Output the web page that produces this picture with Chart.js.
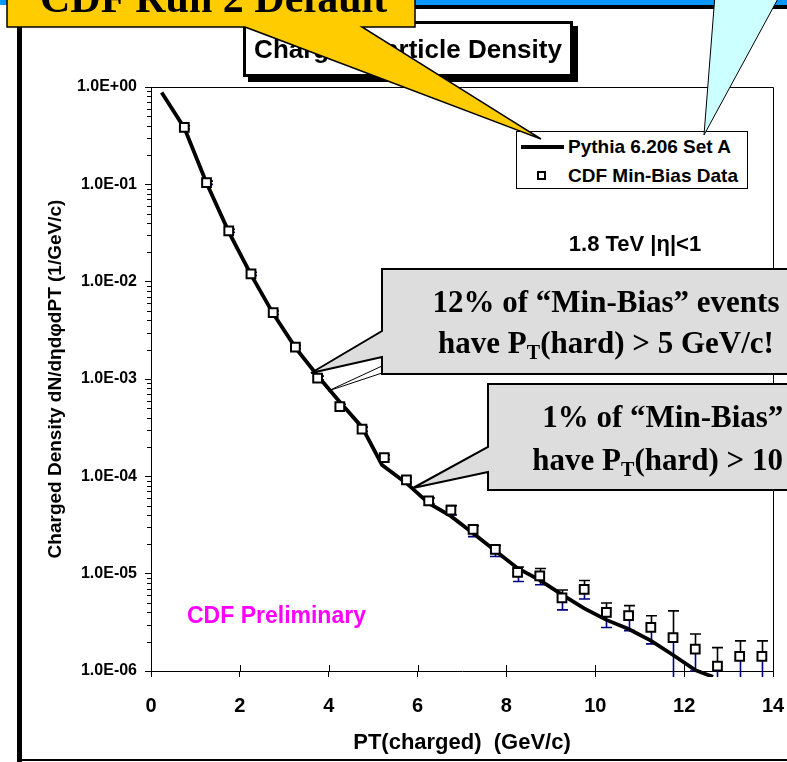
<!DOCTYPE html>
<html>
<head>
<meta charset="utf-8">
<title>Charged Particle Density</title>
<script src="https://cdn.jsdelivr.net/npm/chart.js@4.4.1/dist/chart.umd.min.js"></script>
<style>
  html, body { margin: 0; padding: 0; }
  body {
    width: 787px; height: 762px; overflow: hidden; position: relative; background: #fff;
    font-family: "Liberation Sans", Arial, sans-serif;
  }
  #chart { position: absolute; left: 0; top: 0; }
  .abs { position: absolute; white-space: nowrap; }

  /* slide frame */
  #topBand { left: 0; top: 0; width: 787px; height: 5px; background: #0a96ff; }
  #topRule { left: 17px; top: 5px; width: 770px; height: 4px; background: #000; }
  #frameLeft { left: 17px; top: 27px; width: 5px; height: 735px; background: #000; }
  #frameBottom { left: 17px; top: 759px; width: 770px; height: 2px; background: #000; }

  #titleBox {
    left: 243px; top: 21px; width: 324px; height: 50px;
    border: 3px solid #000; background: #fff; box-shadow: 5px 5px 0 #000;
    font-weight: bold; font-size: 26px; line-height: 50px; text-align: center; z-index: 2;
  }

  #legend {
    left: 516px; top: 131px; width: 230px; height: 56px;
    border: 1px solid #000; background: #fff; z-index: 2;
    font-weight: bold; font-size: 19px;
  }
  #legend .txt { position: absolute; left: 51px; line-height: 30px; }
  #legLine { position: absolute; left: 4px; top: 13px; width: 43px; height: 4px; background: #000; }
  #legBox { position: absolute; left: 20px; top: 39px; width: 5px; height: 5px; border: 2px solid #000; background: #fff; }

  #energy { left: 535px; top: 230px; width: 200px; text-align: center; font-weight: bold; font-size: 22px; line-height: 28px; z-index: 2; }
  #prelim { left: 187px; top: 601px; color: #ff00ff; font-weight: bold; font-size: 23px; line-height: 28px; z-index: 2; }

  #callouts { position: absolute; left: 0; top: 0; z-index: 3; }
  .serif { font-family: "Liberation Serif", "Times New Roman", serif; font-weight: bold; z-index: 4; }
  .serif sub { font-size: 20px; vertical-align: -6px; line-height: 0; }
  .c1 { left: 406px; width: 400px; text-align: center; font-size: 31px; line-height: 40px; }
  .c2 { left: 508px; width: 400px; text-align: center; font-size: 31px; line-height: 40px; }
  #runTwo { left: 40px; top: -25px; font-size: 42px; line-height: 46px; }
</style>
</head>
<body>
<div id="topBand" class="abs"></div>
<div id="topRule" class="abs"></div>
<div id="frameLeft" class="abs"></div>
<div id="frameBottom" class="abs"></div>

<canvas id="chart" width="787" height="762"></canvas>

<div id="titleBox" class="abs">Charged Particle Density</div>

<div id="legend" class="abs">
  <span id="legLine"></span><span class="txt" id="legText0" style="top:0"></span>
  <span id="legBox"></span><span class="txt" id="legText1" style="top:29px"></span>
</div>

<div id="energy" class="abs">1.8 TeV |η|&lt;1</div>
<div id="prelim" class="abs">CDF Preliminary</div>

<svg id="callouts" width="787" height="762">
  <!-- grey call-outs pointing at the curve -->
  <path d="M382,269 H810 V374 H382 V357 L311,373 L382,331 Z" fill="#dddddd" stroke="#000" stroke-width="2" stroke-linejoin="miter"/>
  <path d="M382,366 L328,391 L382,373" fill="none" stroke="#000" stroke-width="1"/>
  <path d="M488,384 H810 V490 H488 V472 L413,488 L488,447 Z" fill="#dddddd" stroke="#000" stroke-width="2" stroke-linejoin="miter"/>
  <!-- yellow label box and its pointer -->
  <path d="M7,-10 H415 V27 H362 L541,139 L245,27 H7 Z" fill="#ffcc00" stroke="#000" stroke-width="1.5" stroke-linejoin="miter"/>
  <!-- cyan pointer from the top -->
  <path d="M715,-5 L780,-5 L704,135 Z" fill="#ccffff" stroke="#000" stroke-width="1"/>
</svg>

<div id="runTwo" class="abs serif">CDF Run 2 Default</div>

<div class="abs serif c1" style="top:282px">12% of “Min-Bias” events</div>
<div class="abs serif c1" style="top:323px">have P<sub>T</sub>(hard) &gt; 5 GeV/c!</div>
<div class="abs serif c2" style="top:397px">1% of “Min-Bias” events</div>
<div class="abs serif c2" style="top:440px">have P<sub>T</sub>(hard) &gt; 10 GeV/c!</div>

<script>
// Charged particle density vs PT, |eta| < 1 at 1.8 TeV

// CDF min-bias data: bin centres (GeV/c), values and error-bar ends
const ptBins = [0.75, 1.25, 1.75, 2.25, 2.75, 3.25, 3.75, 4.25, 4.75, 5.25, 5.75, 6.25, 6.75,
                7.25, 7.75, 8.25, 8.75, 9.25, 9.75, 10.25, 10.75, 11.25, 11.75, 12.25, 12.75, 13.25, 13.75];
const cdfData = [0.385, 0.104, 0.0333, 0.0120, 0.0048, 0.00213, 0.00102, 0.00052, 0.000305, 0.000156,
                 9.2e-5, 5.6e-5, 4.5e-5, 2.85e-5, 1.78e-5, 1.03e-5, 9.5e-6, 5.65e-6, 6.9e-6, 4.0e-6,
                 3.7e-6, 2.8e-6, 2.2e-6, 1.68e-6, 1.12e-6, 1.41e-6, 1.41e-6];
const cdfHigh = [0.40, 0.108, 0.0346, 0.0125, 0.0050, 0.00222, 0.00107, 0.00055, 0.00032, 0.000165,
                 9.7e-5, 6.0e-5, 5.0e-5, 3.1e-5, 1.95e-5, 1.17e-5, 1.13e-5, 6.8e-6, 8.5e-6, 5.0e-6,
                 4.7e-6, 3.7e-6, 4.15e-6, 2.4e-6, 1.74e-6, 2.04e-6, 2.04e-6];
const cdfLow = [0.37, 0.100, 0.0322, 0.0116, 0.0046, 0.00205, 0.00098, 0.00050, 0.00029, 0.000149,
                8.6e-5, 5.2e-5, 4.0e-5, 2.4e-5, 1.5e-5, 8.3e-6, 7.7e-6, 4.25e-6, 5.5e-6, 2.8e-6,
                2.6e-6, 1.9e-6, 5e-7, 1.0e-6, 5e-7, 5e-7, 5e-7];

// Pythia 6.206 Set A prediction
const pythiaPT = [0.24, 0.75, 1.25, 1.75, 2.25, 2.75, 3.25, 3.75, 4.25, 4.75, 5.2, 5.75, 6.25, 6.75,
                  7.25, 7.75, 8.25, 8.75, 9.25, 9.75, 10.25, 10.75, 11.25, 11.75, 12.25, 12.65];
const pythiaDensity = [0.88, 0.38, 0.103, 0.0325, 0.0118, 0.0047, 0.0021, 0.00108, 0.00058, 0.00032,
                       0.000131, 8.5e-5, 5.3e-5, 3.9e-5, 2.6e-5, 1.72e-5, 1.14e-5, 8.6e-6, 6.1e-6, 4.4e-6,
                       3.35e-6, 2.7e-6, 2.05e-6, 1.46e-6, 1.02e-6, 8.7e-7];

// axis ticks
const yTickValues = [1e-6, 1e-5, 1e-4, 1e-3, 1e-2, 1e-1, 1];
const yTickLabels = ['1.0E-06', '1.0E-05', '1.0E-04', '1.0E-03', '1.0E-02', '1.0E-01', '1.0E+00'];
const xTickValues = [0, 2, 4, 6, 8, 10, 12, 14];

const PLOT = { left: 151, right: 773, top: 87, bottom: 671 };

// vertical error bars: black above the point, navy below
const errorBars = {
  id: 'errorBars',
  beforeDatasetsDraw(chart) {
    const { ctx, chartArea: a, scales: { x, y } } = chart;
    ctx.save();
    ctx.beginPath();
    ctx.rect(a.left, a.top, a.right - a.left, a.bottom - a.top + 6);
    ctx.clip();
    ctx.lineWidth = 1.6;
    ptBins.forEach((pt, i) => {
      const px = Math.round(x.getPixelForValue(pt)) + 0.5;
      const py = y.getPixelForValue(cdfData[i]);
      const hi = y.getPixelForValue(cdfHigh[i]);
      const lo = y.getPixelForValue(cdfLow[i]);
      ctx.strokeStyle = '#000';
      ctx.beginPath();
      ctx.moveTo(px, py); ctx.lineTo(px, hi);
      ctx.moveTo(px - 5.5, hi); ctx.lineTo(px + 5.5, hi);
      ctx.stroke();
      ctx.strokeStyle = '#000080';
      ctx.beginPath();
      ctx.moveTo(px, py); ctx.lineTo(px, lo);
      ctx.moveTo(px - 5.5, lo); ctx.lineTo(px + 5.5, lo);
      ctx.stroke();
    });
    ctx.restore();
  }
};

// plot frame, minor log ticks and the inner half of the x ticks
const axisExtras = {
  id: 'axisExtras',
  afterDraw(chart) {
    const { ctx, chartArea: a, scales: { x, y } } = chart;
    ctx.save();
    ctx.strokeStyle = '#000';
    ctx.lineWidth = 1;
    ctx.beginPath();
    ctx.moveTo(a.left, a.top + 0.5);
    ctx.lineTo(a.right + 0.5, a.top + 0.5);
    ctx.lineTo(a.right + 0.5, a.bottom);
    for (let k = -6; k < 0; k++) {
      for (let m = 2; m <= 9; m++) {
        const py = Math.round(y.getPixelForValue(m * Math.pow(10, k))) + 0.5;
        ctx.moveTo(a.left - 4, py);
        ctx.lineTo(a.left, py);
      }
    }
    xTickValues.forEach(v => {
      const px = Math.round(x.getPixelForValue(v)) + 0.5;
      ctx.moveTo(px, a.bottom);
      ctx.lineTo(px, a.bottom - 6);
    });
    ctx.stroke();
    ctx.restore();
  }
};

const chart = new Chart(document.getElementById('chart'), {
  type: 'scatter',
  data: {
    datasets: [
      {
        label: 'CDF Min-Bias Data',
        data: ptBins.map((pt, i) => ({ x: pt, y: cdfData[i] })),
        showLine: false,
        pointStyle: 'rect',
        pointRadius: 6.2,
        pointBorderWidth: 2,
        pointBorderColor: '#000',
        pointBackgroundColor: '#fff',
        order: 0
      },
      {
        label: 'Pythia 6.206 Set A',
        data: pythiaPT.map((pt, i) => ({ x: pt, y: pythiaDensity[i] })),
        showLine: true,
        borderColor: '#000',
        borderWidth: 3.8,
        pointRadius: 0,
        tension: 0,
        clip: { left: 5, top: 5, right: 5, bottom: 6 },
        order: 1
      }
    ]
  },
  options: {
    responsive: false,
    animation: false,
    layout: { padding: { left: 0, right: 787 - PLOT.right, top: PLOT.top, bottom: 0 } },
    plugins: { legend: { display: false }, tooltip: { enabled: false } },
    scales: {
      x: {
        type: 'linear',
        min: 0,
        max: 14,
        // fixed axis band; tick labels may hang past the plot edges
        afterFit: s => { s.height = 762 - PLOT.bottom; s.paddingLeft = 0; s.paddingRight = 0; },
        afterBuildTicks: s => { s.ticks = xTickValues.map(v => ({ value: v })); },
        ticks: {
          autoSkip: false,
          maxRotation: 0,
          padding: 17,
          color: '#000',
          font: { family: 'Liberation Sans', size: 20, weight: 'bold' }
        },
        grid: { drawOnChartArea: false, drawTicks: true, tickLength: 6, color: '#000' },
        border: { display: true, color: '#000', width: 1 },
        title: {
          display: true,
          text: 'PT(charged)  (GeV/c)',
          color: '#000',
          font: { family: 'Liberation Sans', size: 22, weight: 'bold' },
          padding: { top: 0, bottom: 6 }
        }
      },
      y: {
        type: 'logarithmic',
        min: 1e-6,
        max: 1,
        afterFit: s => { s.width = PLOT.left; s.paddingTop = 0; s.paddingBottom = 0; },
        afterBuildTicks: s => { s.ticks = yTickValues.map(v => ({ value: v })); },
        ticks: {
          autoSkip: false,
          padding: 8,
          color: '#000',
          font: { family: 'Liberation Sans', size: 16, weight: 'bold' },
          callback: (v, i) => yTickLabels[i]
        },
        grid: { drawOnChartArea: false, drawTicks: true, tickLength: 6, color: '#000' },
        border: { display: true, color: '#000', width: 1 },
        title: {
          display: true,
          text: 'Charged Density dN/dηdφdPT (1/GeV/c)',
          color: '#000',
          font: { family: 'Liberation Sans', size: 19, weight: 'bold' },
          padding: { top: 44, bottom: 0 }
        }
      }
    }
  },
  plugins: [errorBars, axisExtras]
});

// legend rows: curve first, then the data points
document.getElementById('legText0').textContent = chart.data.datasets[1].label;
document.getElementById('legText1').textContent = chart.data.datasets[0].label;
</script>
</body>
</html>
